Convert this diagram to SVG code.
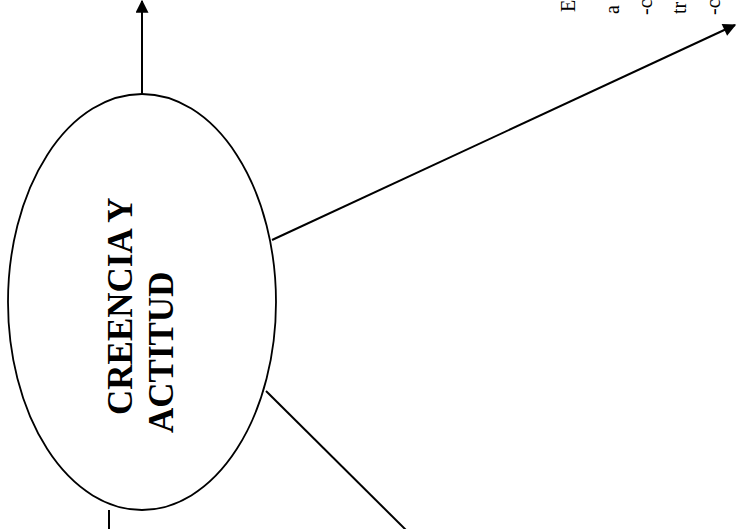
<svg xmlns="http://www.w3.org/2000/svg" width="737" height="529" viewBox="0 0 737 529">
<style>
.ln{stroke:#000;stroke-width:2;fill:none}
.big{font-family:"Liberation Serif","Times New Roman",serif;font-weight:bold;font-size:35px;fill:#000}
.sm{font-family:"Liberation Serif","Times New Roman",serif;font-size:20px;fill:#000}
</style>
<defs>
<marker id="ah2" viewBox="0 0 10 10" refX="9" refY="5" markerWidth="17" markerHeight="13" orient="auto" markerUnits="userSpaceOnUse">
<path d="M0,0 L10,5 L0,10 z" fill="#000"/>
</marker>
</defs>
<rect width="737" height="529" fill="#fff"/>
<g id="connectors">
<line class="ln" x1="142" y1="94" x2="142" y2="1" marker-end="url(#ah2)"/>
<line class="ln" x1="272" y1="240" x2="735" y2="25" marker-end="url(#ah2)"/>
<line class="ln" x1="266" y1="391" x2="407" y2="531"/>
<line class="ln" x1="109" y1="510" x2="109" y2="531"/>
</g>
<g id="node-creencia">
<ellipse cx="142" cy="302" rx="134" ry="208" stroke="#000" stroke-width="1.8" fill="none"/>
<text class="big" transform="translate(132,415) rotate(-90)">CREENCIA Y</text>
<text class="big" transform="translate(173,433) rotate(-90)">ACTITUD</text>
</g>
<g id="node-topright">
<text class="sm" transform="translate(575,12) rotate(-90)">E</text>
<text class="sm" transform="translate(619,14) rotate(-90)">a</text>
<text class="sm" transform="translate(652,15) rotate(-90)">-c</text>
<text class="sm" transform="translate(686,14) rotate(-90)">tr</text>
<text class="sm" transform="translate(720,15) rotate(-90)">-c</text>
</g>
</svg>
